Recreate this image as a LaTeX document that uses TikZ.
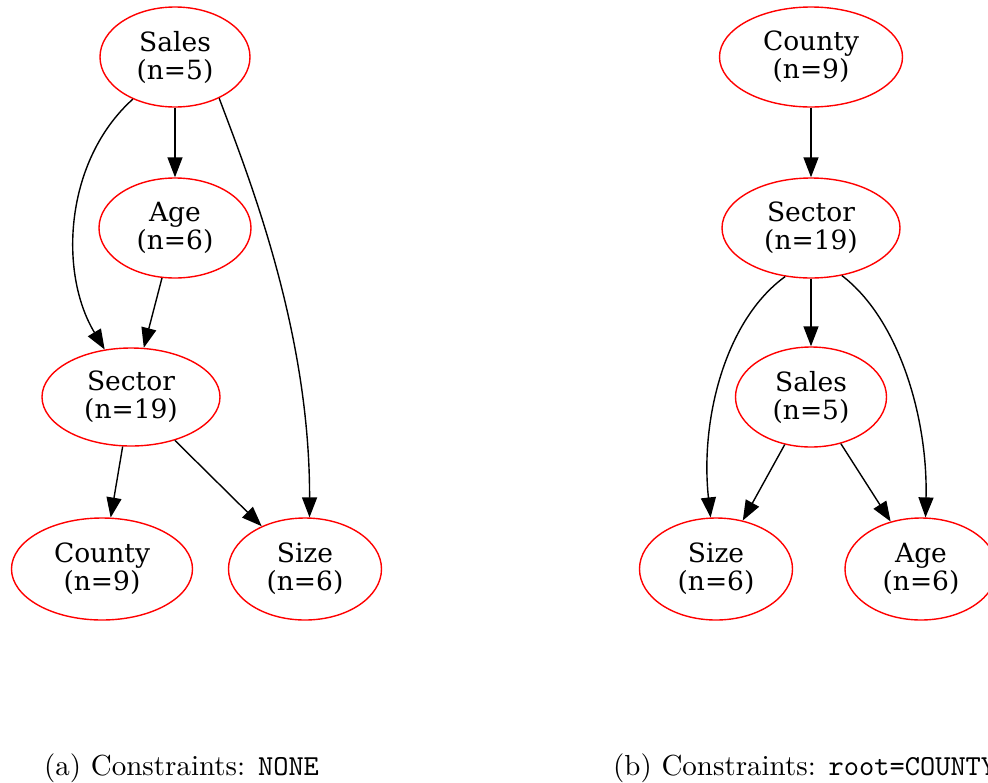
\documentclass[tikz,border=0pt]{standalone}
\usepackage{fontspec}
\usetikzlibrary{shapes.geometric,arrows.meta}
\newfontfamily\nodefont{DejaVu Serif}
\newfontfamily\capfont{lmroman10-regular}[Extension=.otf]
\newfontfamily\captt{lmmono10-regular}[Extension=.otf]
\begin{document}
\begin{tikzpicture}[x=1pt,y=-1pt,
  gnode/.style={ellipse,draw=red,line width=1.4pt,inner sep=0pt,align=center,
    font=\nodefont\fontsize{26.5}{28}\selectfont},
  edge/.style={draw=black,line width=1.4pt,-{Triangle[length=20pt,width=15pt]}},
  capt/.style={anchor=base west,inner sep=0pt,font=\capfont\fontsize{29}{33}\selectfont}]
\useasboundingbox (0,0) rectangle (988,782);
% left graph
\node[gnode,minimum width=150pt,minimum height=100pt] (aSales) at (175,57) {Sales\\(n=5)};
\node[gnode,minimum width=152pt,minimum height=100pt] (aAge) at (175,228) {Age\\(n=6)};
\node[gnode,minimum width=178pt,minimum height=98pt] (aSector) at (131,397) {Sector\\(n=19)};
\node[gnode,minimum width=181pt,minimum height=102pt] (aCounty) at (102,569) {County\\(n=9)};
\node[gnode,minimum width=153pt,minimum height=102pt] (aSize) at (305,569) {Size\\(n=6)};
\draw[edge] (aSales) -- (aAge);
\draw[edge] (aSales.-135) .. controls (65,160) and (58,272) .. (aSector.119);
\draw[edge] (aSales.-43) .. controls (248,175) and (310,330) .. (aSize.85);
\draw[edge] (aAge) -- (aSector);
\draw[edge] (aSector) -- (aCounty);
\draw[edge] (aSector) -- (aSize);
% right graph
\node[gnode,minimum width=183pt,minimum height=100pt] (bCounty) at (811,57) {County\\(n=9)};
\node[gnode,minimum width=178pt,minimum height=100pt] (bSector) at (811,228) {Sector\\(n=19)};
\node[gnode,minimum width=151pt,minimum height=100pt] (bSales) at (811,397) {Sales\\(n=5)};
\node[gnode,minimum width=153pt,minimum height=102pt] (bSize) at (716,569) {Size\\(n=6)};
\node[gnode,minimum width=152pt,minimum height=102pt] (bAge) at (921,569) {Age\\(n=6)};
\draw[edge] (bCounty) -- (bSector);
\draw[edge] (bSector) -- (bSales);
\draw[edge] (bSector.-118) .. controls (725,320) and (700,420) .. (bSize.96);
\draw[edge] (bSector.-57) .. controls (900,320) and (928,420) .. (bAge.85);
\draw[edge] (bSales) -- (bSize);
\draw[edge] (bSales) -- (bAge);
% captions
\node[capt] (capA) at (44,775) {(a) Constraints: {\captt NONE}};
\node[capt] (capB) at (613,775) {(b) Constraints: {\captt root=COUNTY}};
\end{tikzpicture}
\end{document}
